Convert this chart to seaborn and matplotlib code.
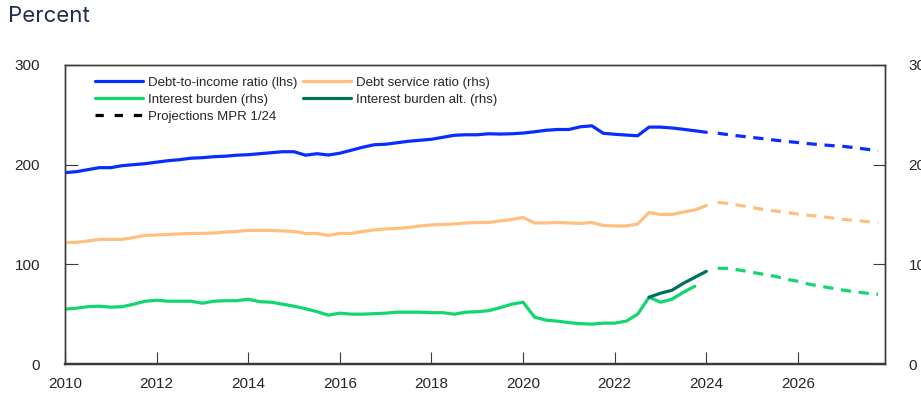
import numpy as np
import pandas as pd
import seaborn as sns
import matplotlib.pyplot as plt
from matplotlib.lines import Line2D

# quarterly history 2010Q1 .. 2024Q1 (x = year + q/4)
hist_start = 2010.0
debt_to_income = [192, 193, 195, 197, 197, 199, 200, 201, 202.5, 204, 205, 206.5,
                  207, 208, 208.5, 209.5, 210, 211, 212, 213, 213, 209.5, 211, 209.7,
                  211.5, 214.5, 217.5, 220, 220.5, 222, 223.5, 224.5, 225.5, 227.5, 229.5, 230,
                  230, 231, 230.7, 231, 231.7, 233, 234.5, 235.3, 235.3, 238, 239, 231.5,
                  230.5, 229.7, 229, 237.7, 237.7, 236.8, 235.5, 234, 232.5]
debt_service = [12.2, 12.2, 12.35, 12.5, 12.5, 12.5, 12.7, 12.9, 12.95, 13.0, 13.05, 13.1,
                13.1, 13.15, 13.25, 13.3, 13.4, 13.4, 13.4, 13.35, 13.3, 13.1, 13.1, 12.9,
                13.1, 13.1, 13.3, 13.45, 13.55, 13.6, 13.7, 13.85, 13.95, 14.0, 14.05, 14.15,
                14.2, 14.2, 14.35, 14.5, 14.7, 14.15, 14.15, 14.2, 14.15, 14.1, 14.2, 13.9,
                13.85, 13.85, 14.05, 15.2, 15.0, 15.0, 15.25, 15.45, 15.9]
interest_burden = [5.5, 5.6, 5.75, 5.8, 5.7, 5.75, 6.0, 6.3, 6.4, 6.3, 6.3, 6.3,
                   6.1, 6.3, 6.35, 6.35, 6.5, 6.25, 6.2, 6.0, 5.8, 5.55, 5.25, 4.9,
                   5.1, 5.0, 5.0, 5.05, 5.1, 5.2, 5.2, 5.2, 5.15, 5.15, 5.0, 5.2,
                   5.25, 5.35, 5.65, 6.0, 6.2, 4.7, 4.4, 4.3, 4.15, 4.05, 4.0, 4.1,
                   4.1, 4.3, 5.0, 6.7, 6.2, 6.5, 7.2, 7.8]
alt_start = 2022.75
interest_burden_alt = [6.7, 7.1, 7.4, 8.1, 8.7, 9.3]

# projections MPR 1/24, 2024Q2 .. 2027Q4
proj_start = 2024.25
proj_dti = [231.5, 230, 228.6, 227.3, 226, 224.6, 223.3, 222.2, 221, 220, 219.1, 218.3, 217, 215.5, 214]
proj_dsr = [16.2, 16.1, 15.9, 15.7, 15.5, 15.35, 15.2, 15.05, 14.9, 14.8, 14.65, 14.5, 14.4, 14.3, 14.15]
proj_ib = [9.6, 9.6, 9.4, 9.2, 9.0, 8.8, 8.5, 8.3, 8.0, 7.8, 7.6, 7.4, 7.25, 7.1, 7.0]

left_ticks = [0, 100, 200, 300]
right_ticks = [0, 10, 20, 30]
year_ticks = list(range(2010, 2027, 2))

BLUE = "#0a2dff"
PEACH = "#ffbf80"
GREEN = "#12d66e"
TEAL = "#00705a"


def qx(start, n):
    return start + np.arange(n) / 4


sns.set_style("ticks")
plt.rcParams["font.family"] = ["Liberation Sans", "DejaVu Sans"]

fig = plt.figure(figsize=(9.21, 3.96), dpi=100)
ax = fig.add_axes([65 / 921, 32 / 396, 820 / 921, 299 / 396])
ax2 = ax.twinx()

lw = 2.3
dash = (0, (3.2, 2.4))

sns.lineplot(x=qx(hist_start, len(debt_to_income)), y=debt_to_income, ax=ax, color=BLUE, lw=lw)
sns.lineplot(x=qx(proj_start, len(proj_dti)), y=proj_dti, ax=ax, color=BLUE, lw=lw, linestyle=dash)

sns.lineplot(x=qx(hist_start, len(debt_service)), y=debt_service, ax=ax2, color=PEACH, lw=lw)
sns.lineplot(x=qx(proj_start, len(proj_dsr)), y=proj_dsr, ax=ax2, color=PEACH, lw=lw, linestyle=dash)
sns.lineplot(x=qx(hist_start, len(interest_burden)), y=interest_burden, ax=ax2, color=GREEN, lw=lw)
sns.lineplot(x=qx(alt_start, len(interest_burden_alt)), y=interest_burden_alt, ax=ax2, color=TEAL, lw=lw)
sns.lineplot(x=qx(proj_start, len(proj_ib)), y=proj_ib, ax=ax2, color=GREEN, lw=lw, linestyle=dash)

ax.set_xlim(2010, 2027.9)
ax.set_ylim(0, 300)
ax2.set_ylim(0, 30)
ax.set_xticks(year_ticks)
ax.set_yticks(left_ticks)
ax2.set_yticks(right_ticks)

edge = "#3a3a3a"
for a in (ax, ax2):
    for s in a.spines.values():
        s.set_visible(True)
        s.set_color(edge)
        s.set_linewidth(1.0)
ax.spines["bottom"].set_linewidth(1.6)
ax2.spines["bottom"].set_linewidth(1.6)
ax.tick_params(axis="x", direction="in", length=9, width=0.8, color=edge, pad=9, labelsize=11)
ax.tick_params(axis="y", direction="in", length=9, width=0.8, color=edge, pad=18, labelsize=11)
ax2.tick_params(axis="y", direction="in", length=9, width=0.8, color=edge, pad=17, labelsize=11)
ax.set_xlabel("")
ax.set_ylabel("")
ax2.set_ylabel("")

handles = [
    Line2D([], [], color=BLUE, lw=lw, label="Debt-to-income ratio (lhs)"),
    Line2D([], [], color=GREEN, lw=lw, label="Interest burden (rhs)"),
    Line2D([], [], color="black", lw=lw, linestyle=(0, (2.6, 3.4)), label="Projections MPR 1/24"),
    Line2D([], [], color=PEACH, lw=lw, label="Debt service ratio (rhs)"),
    Line2D([], [], color=TEAL, lw=lw, label="Interest burden alt. (rhs)"),
]
ax2.legend(handles=handles, ncol=2, loc="upper left", bbox_to_anchor=(0.0366, 0.962),
           frameon=False, fontsize=9.5, handlelength=3.6, handletextpad=0.4,
           columnspacing=0.45, labelspacing=0.36, borderpad=0, borderaxespad=0)

fig.text(8 / 921, 1 - 16 / 396, "Percent", fontsize=16, color="#1f2b4f",
         family=["Inter", "DejaVu Sans"], va="center", ha="left")

fig.savefig("out.png", dpi=100)
